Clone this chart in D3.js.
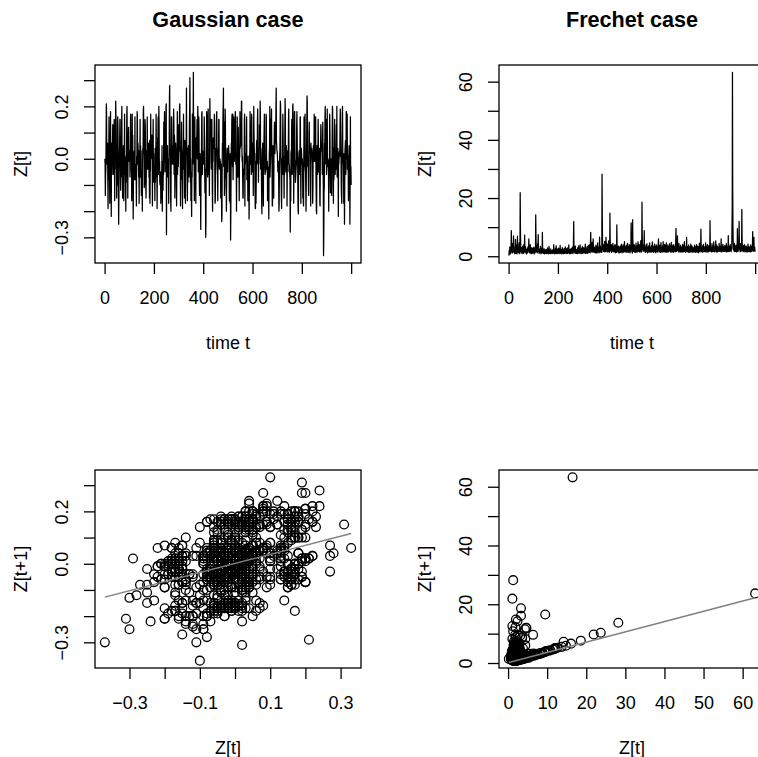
<!DOCTYPE html>
<html>
<head>
<meta charset="utf-8">
<script src="https://cdn.jsdelivr.net/npm/d3@7"></script>
<style>
  body { margin: 0; background: #fff; }
  svg { display: block; }
  text { font-family: "Liberation Sans", Arial, Helvetica, sans-serif; fill: #000; }
</style>
</head>
<body>
<svg id="chart" width="758" height="757"></svg>
<script>
// Gaussian AR series Z[t], t = 1..1000
const gaussianZ = [
0,-.02,-.14,-.06,-.04,.08,.21,.17,-.02,.03,-.01,.06,-.08,-.19,-.04,-.08,.04,.16,-.06,-.05,-.17,0,.02,.18,.04,
-.07,-.22,.06,-.06,.03,.01,.05,.13,.01,-.06,-.05,-.06,.12,.15,0,-.16,.06,0,.09,.22,.16,-.04,-.02,-.15,-.04,
-.10,.14,.16,.13,.03,-.11,-.25,-.15,-.01,0,.07,.15,.15,-.03,-.12,-.05,.01,.03,.13,.20,-.07,-.02,-.15,-.02,.03,
.05,-.01,-.16,-.08,.04,.17,-.06,.01,0,-.09,-.20,-.01,-.09,.03,.17,.20,.02,.02,-.15,.03,.05,.12,.04,.02,-.01,
.01,.03,-.07,-.04,.15,.17,0,.10,.08,-.16,-.02,.17,-.04,.09,-.09,-.23,-.07,-.06,.01,.03,-.08,-.05,.16,-.08,-.04,
-.02,-.04,-.06,-.18,.01,-.01,.18,.16,-.02,.06,.04,-.02,-.07,.03,-.17,-.03,-.02,.01,.15,-.07,.05,-.02,.03,-.14,-.07,
-.05,-.08,-.20,-.01,.04,.03,.18,.20,.02,.05,-.11,-.09,.01,.15,.13,.02,-.10,-.15,-.07,.03,-.02,.01,.16,-.04,-.01,
.01,-.04,.06,.05,-.07,-.03,-.15,.07,-.17,-.05,-.04,.17,0,.05,.04,.01,.09,.06,-.18,-.02,.05,.15,-.09,.02,-.07,
-.05,-.03,-.06,-.16,.04,-.09,-.04,.04,.17,-.02,-.07,-.05,-.19,-.04,.08,.05,.16,-.06,.09,.20,.14,-.04,-.01,-.09,-.10,
-.08,-.05,-.17,-.11,-.15,-.15,-.04,.05,-.20,-.01,-.03,-.12,-.04,-.06,.14,.13,.07,.18,.04,-.05,.09,.04,.03,.20,.21,
-.29,.02,-.04,.03,.05,-.05,-.07,-.02,0,-.17,-.02,.04,.24,.28,.04,.03,.01,-.16,-.20,0,.16,.16,-.02,.05,.02,
0,-.02,-.02,.11,.19,.13,-.06,.09,.07,-.15,-.07,-.02,.06,.04,.03,-.05,-.18,-.03,.01,.18,-.06,.02,0,-.03,.13,
.05,.03,.05,.20,.21,.02,-.01,-.18,-.05,.02,.04,.14,-.05,-.08,-.06,-.19,.01,.03,.05,.17,-.04,-.03,-.01,-.15,.07,
-.05,-.06,-.17,.01,.06,.08,.27,.03,.04,-.04,-.16,.04,-.09,.03,.05,.04,-.07,-.05,.13,.19,.31,.15,-.09,0,-.16,
-.14,-.14,-.22,-.05,-.07,.17,.12,-.02,.10,.33,.06,.04,.02,-.16,-.08,.16,-.06,.04,.02,-.17,.08,.05,.03,.09,.15,
0,.11,.20,.15,-.05,.05,.16,.10,-.08,-.14,-.08,.02,0,-.15,-.27,-.08,-.06,.05,.17,.18,0,-.06,.03,.01,-.02,
0,.02,-.02,.16,.09,-.05,-.13,-.04,-.11,-.30,-.25,-.02,.06,.18,.16,-.02,-.05,-.07,.05,.19,-.05,-.06,-.04,.01,-.14,
.04,.23,.14,.10,.08,.15,0,-.04,.03,.15,.03,-.13,-.20,.07,-.01,.08,.06,.04,.05,.17,.14,-.03,-.17,-.16,-.05,
.04,.02,.03,.17,.18,0,-.04,-.06,-.16,-.02,.04,.01,.15,.15,-.03,-.04,-.02,0,-.03,-.01,-.15,-.02,-.06,-.12,-.24,
-.22,-.01,.06,.04,.16,.20,.27,-.03,.10,.14,-.14,-.10,.08,.19,.13,-.04,-.06,-.08,-.20,-.09,.02,.04,-.03,-.05,.04,
.02,0,.05,.03,.01,-.16,-.02,-.09,-.17,.02,-.31,-.21,-.06,.06,.04,.15,.17,0,-.03,.17,-.08,-.02,0,.16,.13,
-.01,.01,.13,.06,.18,.16,-.02,-.01,-.03,-.20,-.04,.03,.16,-.06,-.07,-.05,.12,.05,-.04,-.02,-.16,0,.01,.18,.04,
.14,.05,.07,.08,.22,.22,.03,-.01,.01,-.07,-.15,-.15,-.04,-.04,-.06,-.03,.15,.17,-.18,.02,-.02,0,.01,-.01,.09,
.16,-.08,-.03,-.01,-.03,-.16,.01,-.08,-.10,-.12,-.23,-.14,.01,.03,.18,.10,-.02,0,.02,-.06,.17,.16,-.02,-.05,.02,
.04,.06,-.14,.03,.20,.10,.04,.02,.02,-.11,-.19,-.19,-.01,-.17,-.08,.05,.07,-.02,0,.15,.19,.02,.04,-.09,0,
-.02,0,.13,.06,.08,.22,.16,-.04,.04,.02,-.05,-.16,-.21,-.06,-.08,.06,.04,.02,-.18,.06,.05,.11,.17,0,-.04,
-.06,-.04,-.05,-.03,.17,.16,-.02,-.04,-.03,-.01,-.16,-.03,-.07,-.09,-.14,-.23,-.04,.02,.04,.20,-.07,-.03,-.01,.15,.12,
.15,.19,.02,-.01,-.18,-.18,0,.05,.02,0,-.15,.03,.07,.14,.07,.02,.08,.06,.10,.19,.27,.07,.05,.03,.03,
.01,-.03,-.05,-.03,-.01,-.08,-.20,-.17,-.05,.01,.03,.14,.22,.20,.01,-.06,-.15,-.19,0,-.04,-.06,.05,.17,.10,-.06,
-.04,-.02,-.15,.01,-.06,.09,.23,.18,-.02,-.03,-.05,.05,.03,.01,-.18,-.03,.03,.01,-.02,0,.15,.19,-.05,-.02,-.04,
-.06,-.08,-.28,-.12,-.16,.02,.03,.02,.15,-.05,-.06,.08,.20,.21,.02,.04,-.17,-.05,.02,.18,.18,0,-.01,-.09,-.07,
-.05,-.03,-.02,.12,.18,.10,.01,-.01,-.14,-.20,-.21,0,.01,.03,.02,-.06,-.04,.16,.16,-.02,-.17,-.03,.04,.02,0,
-.02,0,-.02,-.15,-.04,-.17,-.18,0,.16,.14,-.03,-.01,.17,-.04,-.05,-.12,-.20,-.09,.03,.12,.24,.22,.03,-.03,-.01,
-.03,-.12,-.14,.10,.14,.06,.04,.02,.04,-.07,-.18,.06,.01,.03,.04,.02,0,-.02,-.17,-.12,.03,.05,.03,-.01,.17,
.10,.01,-.01,.09,.16,.16,-.02,-.12,-.20,-.21,0,.05,.03,-.06,-.04,.15,.08,-.03,-.05,.02,.04,-.04,-.17,-.18,0,
.04,.13,.11,.03,.04,.06,.04,-.06,.06,.14,.02,-.10,-.37,-.30,-.13,-.11,.06,.03,.17,.20,.02,-.02,.15,.13,-.06,
-.04,.06,.19,-.03,-.02,0,-.01,-.03,-.20,-.06,-.03,-.01,.17,.10,-.05,-.13,-.04,-.02,0,-.02,-.14,-.06,.08,.20,.19,
.01,0,-.17,.04,-.08,-.06,.07,.15,-.03,-.06,-.04,-.02,-.04,.05,.13,.05,.20,-.07,-.01,-.03,.04,.02,-.22,-.01,-.02,
0,.02,.03,.01,.14,.19,.10,.02,0,-.11,-.15,-.17,0,.17,.20,.02,0,-.01,-.03,-.17,.02,-.09,-.25,-.11,.03,
.05,.07,-.06,-.04,.18,.18,0,0,.17,-.04,.01,-.01,-.04,-.16,-.02,.03,.05,.03,-.09,-.25,-.08,.16,-.08,-.03,-.10
];

// Frechet (max-autoregressive) series Z[t], t = 1..1000
const frechetZ = [
0.2,1.4,2.1,0.9,3.2,1.6,0.8,2.5,1.2,3.6,8.8,3.4,1.9,2.7,1.1,4.3,2.0,1.5,2.8,7.0,2.9,1.3,3.1,1.8,0.9,
2.3,1.7,5.8,2.2,1.0,2.6,3.9,1.5,0.8,2.4,6.9,2.6,1.4,3.3,2.0,1.2,2.8,4.6,1.9,0.9,1.1,21.9,9.7,4.0,2.1,
1.6,3.0,1.2,2.4,0.9,1.8,3.5,2.1,1.3,2.7,1.0,4.1,2.2,1.5,7.3,2.9,1.4,2.0,3.2,1.1,2.5,1.7,0.8,2.3,1.9,
1.2,2.8,1.5,3.3,1.9,2.2,6.0,2.5,1.3,1.8,2.9,1.1,4.0,1.9,2.6,1.4,0.9,2.1,3.0,1.6,1.2,2.7,1.8,1.0,2.4,
1.9,3.1,1.4,2.2,0.8,1.7,2.9,1.3,2.4,14.2,7.2,2.9,1.6,3.8,2.0,1.2,2.6,4.4,1.8,7.4,3.0,1.5,2.3,1.0,1.9,
2.5,1.3,1.9,3.4,1.6,0.9,2.2,1.4,2.8,1.7,1.1,8.2,3.1,1.8,1.3,2.3,1.0,1.6,2.6,1.2,0.8,1.9,1.5,2.2,1.1,
1.6,1.0,2.4,1.3,0.9,1.8,1.2,2.9,1.5,1.1,2.0,0.8,1.4,3.4,1.6,1.0,2.1,1.3,1.7,0.9,2.5,1.4,1.1,1.8,1.2,
0.9,1.5,2.2,1.2,1.8,1.0,1.4,4.0,1.9,1.3,2.3,0.8,1.6,1.1,2.7,1.4,1.0,3.6,1.7,1.2,2.0,0.9,1.5,2.5,1.3,
1.1,1.7,2.8,1.3,0.9,2.1,1.5,1.2,3.7,1.8,1.0,1.6,2.4,1.2,1.9,0.8,1.4,3.0,1.7,1.1,2.2,1.4,0.9,1.8,2.6,
1.3,1.0,2.0,1.5,3.2,1.6,1.1,1.8,2.5,1.2,0.9,1.7,2.9,1.4,1.0,2.3,1.6,1.2,3.9,1.8,1.3,2.1,0.8,1.5,2.4,
1.2,1.9,1.0,2.7,1.4,1.1,2.2,1.6,3.1,1.3,0.9,1.8,4.7,11.9,4.8,2.0,1.4,2.6,1.1,1.7,3.5,1.3,2.0,1.0,1.6,
2.3,1.2,1.8,0.9,2.9,1.5,1.1,2.1,3.6,1.4,1.0,1.7,2.5,1.3,3.9,1.6,1.2,2.2,0.9,1.8,2.7,1.4,1.1,3.3,1.7,
1.0,2.4,1.5,1.2,3.0,1.8,1.3,2.6,1.1,1.9,4.2,1.6,1.0,2.3,1.4,2.8,1.2,1.7,3.4,1.5,1.0,2.1,1.3,3.7,1.8,
1.3,2.5,3.9,1.6,2.2,1.2,4.4,8.2,3.3,2.0,3.6,1.5,2.7,4.8,1.9,3.2,1.4,6.0,2.6,3.5,1.8,2.4,1.3,3.0,2.1,
1.6,2.9,1.2,3.8,2.0,1.5,2.7,1.1,3.4,1.9,4.6,2.3,1.4,2.8,1.7,3.1,1.2,2.5,6.6,2.8,1.6,3.6,2.1,1.4,2.6,
1.9,3.0,1.3,28.2,13.7,5.5,3.1,2.2,4.0,1.7,2.9,3.8,1.5,2.4,5.1,2.0,3.3,1.6,2.8,6.5,3.2,1.8,4.5,2.3,1.5,
3.6,2.0,4.2,1.6,2.7,5.3,2.2,3.0,1.4,2.0,14.8,5.9,2.4,3.5,1.8,4.1,2.6,1.3,2.9,3.7,1.9,2.5,4.4,1.7,3.0,
2.2,1.5,3.4,2.6,1.8,4.0,2.3,1.2,2.9,3.8,1.6,2.5,1.3,10.8,4.3,2.1,3.2,1.7,2.6,1.4,3.5,2.0,1.1,2.7,3.1,
1.8,2.4,1.3,3.6,2.0,1.5,2.8,4.2,1.9,1.2,2.5,3.3,1.6,2.1,3.9,1.4,2.7,1.8,3.0,5.0,2.2,1.5,3.4,2.6,1.7,
2.9,1.4,3.7,2.1,1.6,2.8,4.4,1.8,2.4,1.3,3.2,2.0,1.5,4.1,2.7,1.9,3.5,1.2,2.6,3.0,4.3,11.5,4.6,2.2,1.6,
2.7,1.1,12.6,5.2,2.3,3.4,1.7,2.8,4.0,1.5,2.2,3.6,1.9,1.3,2.9,2.1,4.5,1.6,2.5,3.2,1.4,2.0,3.8,1.8,5.0,
2.4,3.5,1.6,2.9,4.1,1.9,2.6,1.4,3.3,2.2,5.4,1.8,2.7,1.5,3.3,18.6,7.6,3.1,2.3,4.0,1.7,2.8,3.6,2.0,8.8,
3.5,2.1,1.5,3.0,2.4,1.3,3.8,2.0,1.6,2.7,4.3,1.8,2.5,1.2,3.1,2.2,1.7,3.6,2.4,1.4,2.9,4.6,1.9,2.6,1.5,
3.2,2.0,1.4,2.8,3.7,1.7,2.3,4.9,2.1,1.5,3.0,2.6,1.3,3.5,2.2,1.8,4.2,2.4,1.6,3.3,2.0,1.2,2.7,3.9,1.9,
2.5,1.6,3.4,2.2,1.4,2.9,4.4,6.0,2.6,1.8,3.2,2.1,1.5,3.8,2.4,1.3,2.8,4.7,2.0,1.6,3.1,2.3,1.4,3.6,2.2,
1.7,5.0,2.4,1.5,3.3,2.6,1.8,4.1,2.2,1.4,2.9,3.7,1.6,2.5,4.6,2.0,1.3,3.0,2.3,1.7,3.9,2.4,1.5,2.8,3.4,
1.9,2.6,4.3,1.6,2.2,3.5,1.4,2.8,2.0,4.8,2.3,1.5,3.1,2.5,1.7,3.8,2.1,1.3,2.9,4.0,1.8,2.4,3.3,1.6,2.7,
2.2,1.6,6.4,9.6,3.9,2.4,1.7,3.0,2.1,7.0,2.8,1.9,3.5,2.3,1.5,4.4,2.6,1.8,3.2,2.0,1.4,2.7,3.8,1.9,2.5,
1.6,3.1,2.2,1.4,2.9,4.1,1.8,2.5,3.4,1.5,2.3,3.8,5.0,2.1,1.7,3.0,2.4,1.3,2.8,3.6,1.9,6.5,2.7,1.6,2.2,
3.3,1.8,2.5,1.4,3.9,2.2,1.6,2.9,2.0,1.3,3.4,2.4,1.7,4.2,2.1,1.5,2.8,3.6,1.9,1.4,2.6,3.1,1.8,2.3,1.5,
2.9,1.7,2.2,3.8,1.6,2.4,1.3,3.2,2.0,1.5,2.7,4.0,1.9,2.3,1.4,3.5,2.1,1.6,2.8,1.2,3.4,2.2,1.7,4.5,2.0,
1.5,2.6,1.8,3.1,9.3,3.7,2.0,1.6,2.9,2.3,1.4,3.6,2.1,1.7,4.1,2.5,1.5,3.0,2.2,1.8,3.3,1.6,2.4,4.6,1.9,
2.7,1.5,3.2,2.2,1.7,4.0,2.3,1.4,2.9,3.5,1.8,2.5,1.6,3.8,2.1,1.9,12.2,5.0,2.4,1.7,3.1,2.6,1.5,2.8,4.3,
2.0,1.6,3.4,2.3,1.8,2.7,4.9,2.1,1.5,3.0,2.4,1.7,3.6,2.2,5.3,2.3,1.6,2.8,3.9,2.0,1.4,2.6,3.3,1.9,2.5,
1.7,3.0,2.2,4.4,1.8,2.6,3.5,1.6,2.4,3.2,1.9,6.0,2.7,1.5,3.6,2.3,1.8,2.9,4.1,2.0,1.6,3.3,2.5,1.7,2.8,
2.1,3.7,1.6,2.4,3.1,1.8,2.6,4.3,2.0,1.5,2.9,2.3,3.5,1.7,2.2,7.1,3.0,2.1,1.6,3.4,2.5,1.8,2.7,4.0,2.2,
1.9,2.8,1.6,3.3,2.5,9.5,16.5,63.2,23.7,10.3,4.2,2.3,3.1,1.8,2.7,4.4,2.0,1.6,3.5,2.4,1.7,2.9,3.8,2.1,1.5,
2.6,1.8,9.5,3.9,2.2,1.7,3.4,2.5,4.6,12.0,5.1,2.3,3.0,1.6,2.8,4.3,2.0,1.7,3.6,3.3,16.1,6.6,2.7,1.9,3.2,
2.4,1.6,3.7,2.1,1.8,2.9,4.0,2.2,1.5,3.3,2.6,1.7,2.8,3.5,1.9,2.3,1.4,3.1,2.5,1.8,4.2,2.0,1.6,2.7,3.4,
2.1,1.7,3.0,2.4,1.5,2.8,3.9,2.2,1.6,3.3,2.5,1.8,2.7,3.6,8.5,3.4,2.0,1.7,2.9,6.5,2.6,1.8,3.1,2.2,1.6
];

// Axis ticks and the subset of tick values that carry a label
const timeTicks = [0, 200, 400, 600, 800, 1000];
const timeLabels = [0, 200, 400, 600, 800];
const gaussTicks = [-0.3, -0.2, -0.1, 0, 0.1, 0.2, 0.3];
const gaussYLabels = [-0.3, 0, 0.2];
const gaussXLabels = [-0.3, -0.1, 0.1, 0.3];
const frechetTicks = [0, 10, 20, 30, 40, 50, 60];
const frechetYLabels = [0, 20, 40, 60];
const frechetXLabels = [0, 10, 20, 30, 40, 50, 60];

// Least-squares lines of Z[t+1] on Z[t]: [intercept, slope]
const gaussFit = [0.001, 0.347];
const frechetFit = [0.1, 0.35];

const svg = d3.select("#chart");
const FS = 18, TICK = 11;
const cols = [95, 499], rows = [65, 470];
const W = 266, H = 198;

// R-style axis range: data extent widened by 4% on each side
function padded(vals) {
  const [lo, hi] = d3.extent(vals);
  const d = (hi - lo) * 0.04;
  return [lo - d, hi + d];
}
function label(v, decimals) {
  const s = Math.abs(v).toFixed(decimals);
  return (v < 0 ? "\u2212" : "") + s;
}

function panel(opt) {
  const g = svg.append("g");
  const x = d3.scaleLinear().domain(opt.xDomain).range([opt.x0, opt.x0 + W]);
  const y = d3.scaleLinear().domain(opt.yDomain).range([opt.y0 + H, opt.y0]);

  opt.draw(g, x, y);

  // frame
  g.append("rect").attr("x", opt.x0).attr("y", opt.y0).attr("width", W).attr("height", H)
    .attr("fill", "none").attr("stroke", "#000").attr("stroke-width", 1.3);

  // bottom axis
  const xl = new Set(opt.xLabels.map(v => v.toFixed(4)));
  const xa = g.append("g").attr("transform", `translate(0,${opt.y0 + H})`)
    .call(d3.axisBottom(x).tickValues(opt.xTicks).tickSize(TICK).tickSizeOuter(0)
      .tickFormat(v => xl.has(v.toFixed(4)) ? label(v, opt.xDec) : ""));
  xa.select(".domain").remove();
  xa.selectAll(".tick line").attr("stroke", "#000").attr("stroke-width", 1.3);
  xa.selectAll(".tick text").attr("y", 41).attr("dy", null)
    .attr("font-size", FS).attr("font-family", null).attr("fill", "#000");

  // left axis, labels turned to read upwards
  const yl = new Set(opt.yLabels.map(v => v.toFixed(4)));
  const ya = g.append("g").attr("transform", `translate(${opt.x0},0)`)
    .call(d3.axisLeft(y).tickValues(opt.yTicks).tickSize(TICK).tickSizeOuter(0)
      .tickFormat(v => yl.has(v.toFixed(4)) ? label(v, opt.yDec) : ""));
  ya.select(".domain").remove();
  ya.selectAll(".tick line").attr("stroke", "#000").attr("stroke-width", 1.3);
  ya.selectAll(".tick text").attr("x", null).attr("dy", null)
    .attr("transform", "translate(-27.5,0) rotate(-90)")
    .attr("text-anchor", "middle")
    .attr("font-size", FS).attr("font-family", null).attr("fill", "#000");

  // axis titles
  g.append("text").attr("x", opt.x0 + W / 2).attr("y", opt.y0 + H + 86)
    .attr("text-anchor", "middle").attr("font-size", FS).text(opt.xTitle);
  g.append("text").attr("transform", `translate(${opt.x0 - 68.5},${opt.y0 + H / 2}) rotate(-90)`)
    .attr("text-anchor", "middle").attr("font-size", FS).text(opt.yTitle);
  if (opt.title) {
    g.append("text").attr("x", opt.x0 + W / 2).attr("y", 27)
      .attr("text-anchor", "middle").attr("font-size", 21.6).attr("font-weight", "bold").text(opt.title);
  }
}

function seriesPanel(z, x0, title, yTicks, yLabels, yDec) {
  const t = z.map((_, i) => i + 1);
  panel({
    x0, y0: rows[0], title,
    xDomain: padded(t), yDomain: padded(z),
    xTicks: timeTicks, xLabels: timeLabels, xDec: 0,
    yTicks, yLabels, yDec,
    xTitle: "time t", yTitle: "Z[t]",
    draw: (g, x, y) => {
      g.append("path").datum(z)
        .attr("d", d3.line().x((d, i) => x(i + 1)).y(d => y(d)))
        .attr("fill", "none").attr("stroke", "#000").attr("stroke-width", 1.25)
        .attr("stroke-linejoin", "round");
    }
  });
}

function lagPanel(z, x0, ticks, xLabels, yLabels, dec, fit) {
  const pts = z.slice(0, -1).map((v, i) => [v, z[i + 1]]);
  const xs = pts.map(p => p[0]), ys = pts.map(p => p[1]);
  panel({
    x0, y0: rows[1],
    xDomain: padded(xs), yDomain: padded(ys),
    xTicks: ticks, xLabels, xDec: dec,
    yTicks: ticks, yLabels, yDec: dec,
    xTitle: "Z[t]", yTitle: "Z[t+1]",
    draw: (g, x, y) => {
      g.append("g").selectAll("circle").data(pts).join("circle")
        .attr("cx", d => x(d[0])).attr("cy", d => y(d[1])).attr("r", 4.4)
        .attr("fill", "none").attr("stroke", "#000").attr("stroke-width", 1.3);
      const ends = d3.extent(xs);
      g.append("path").datum(ends)
        .attr("d", d3.line().x(d => x(d)).y(d => y(fit[0] + fit[1] * d)))
        .attr("fill", "none").attr("stroke", "#808080").attr("stroke-width", 1.4);
    }
  });
}

seriesPanel(gaussianZ, cols[0], "Gaussian case", gaussTicks, gaussYLabels, 1);
seriesPanel(frechetZ, cols[1], "Frechet case", frechetTicks, frechetYLabels, 0);
lagPanel(gaussianZ, cols[0], gaussTicks, gaussXLabels, gaussYLabels, 1, gaussFit);
lagPanel(frechetZ, cols[1], frechetTicks, frechetXLabels, frechetYLabels, 0, frechetFit);
</script>
</body>
</html>
